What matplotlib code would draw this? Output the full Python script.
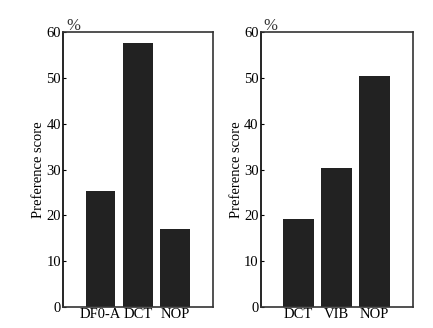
import numpy as np
import matplotlib
matplotlib.use("Agg")
import matplotlib.pyplot as plt

plt.rcParams['font.family'] = ['Liberation Serif', 'DejaVu Serif']

# left panel
cats_left = ["DF0-A", "DCT", "NOP"]
vals_left = [25.3, 57.6, 17.1]
# right panel
cats_right = ["DCT", "VIB", "NOP"]
vals_right = [19.2, 30.3, 50.5]
yticks = [0, 10, 20, 30, 40, 50, 60]

BarColor = "#222222"
SpineColor = "#333333"

fig = plt.figure(figsize=(4.33, 3.28), dpi=100)
axL = fig.add_axes([0.1455, 0.064, 0.3464, 0.838])
axR = fig.add_axes([0.602, 0.064, 0.351, 0.838])

for ax, cats, vals in [(axL, cats_left, vals_left), (axR, cats_right, vals_right)]:
    x = np.arange(1, len(cats) + 1)
    ax.bar(x, vals, width=0.8, color=BarColor)
    ax.set_xlim(0, 4)
    ax.set_ylim(0, 60)
    ax.set_xticks(x)
    ax.set_xticklabels(cats, fontsize=10.5)
    ax.set_yticks(yticks)
    ax.tick_params(axis='y', direction='in', length=2, width=0.8, labelsize=10.5, pad=1.5)
    ax.tick_params(axis='x', length=0, pad=0.5)
    ax.set_ylabel("Preference score", fontsize=10.5, labelpad=1)
    for s in ax.spines.values():
        s.set_color(SpineColor)
        s.set_linewidth(1.2)
    ax.spines['left'].set_color('black')
    ax.text(0.02, 0.995, "%", transform=ax.transAxes, fontsize=12,
            ha='left', va='bottom', color='#333333')

fig.savefig("out.png", dpi=100)
